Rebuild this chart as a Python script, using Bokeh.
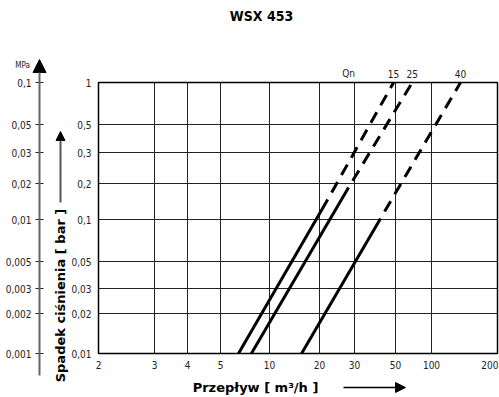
import numpy as np
from bokeh.plotting import figure
from bokeh.models import Range1d, Arrow, NormalHead
from bokeh.core.properties import value
from bokeh.embed import file_html
from bokeh.resources import INLINE

# ---------------- data ----------------
TITLE = "WSX 453"
FLOW_TICKS = [2, 3, 4, 5, 10, 20, 30, 50, 100, 200]
FLOW_LABELS = ["2", "3", "4", "5", "10", "20", "30", "50", "100", "200"]
DP_BAR_TICKS = [0.01, 0.02, 0.03, 0.05, 0.1, 0.2, 0.3, 0.5, 1]
DP_BAR_LABELS = ["0,01", "0,02", "0,03", "0,05", "0,1", "0,2", "0,3", "0,5", "1"]
DP_MPA_LABELS = ["0,001", "0,002", "0,003", "0,005", "0,01", "0,02", "0,03", "0,05", "0,1"]

SERIES = ["15", "25", "40"]
FLOW_START = [6.45, 7.74, 15.6]
DP_START = [0.01, 0.01, 0.01]
FLOW_BREAK = [22.0, 28.0, 41.5]
DP_BREAK = [0.147, 0.185, 0.102]
FLOW_END = [48.8, 69.0, 135.6]
DP_END = [1.0, 1.0, 1.0]
QN_LABEL = "Qn"
QN_FLOW = 28.0

X_TITLE = "Przepływ [ m³/h ]"
Y_TITLE = "Spadek ciśnienia [ bar ]"
Y2_UNIT = "MPa"

# ------- scale of the printed (not exactly logarithmic) grid, in px of the plot area -------
FLOW_GRID_POS = [0, 56, 89, 122, 171, 221, 256, 297, 333, 399]
DP_GRID_POS = [0, 40, 65, 92, 134, 170, 201, 229, 271]
PLOT_W = FLOW_GRID_POS[-1]
PLOT_H = DP_GRID_POS[-1]


def fx(v):
    return np.interp(np.log10(v), np.log10(FLOW_TICKS), FLOW_GRID_POS)


def fy(v):
    return np.interp(np.log10(v), np.log10(DP_BAR_TICKS), DP_GRID_POS)


NARROW = value("DejaVu Sans Condensed, Roboto, sans-serif")
BOLD = value("DejaVu Sans")
TXT = "#222222"

# the plot area occupies [0, PLOT_W] x [0, PLOT_H]; the canvas adds room for the decorations
p = figure(width=499, height=397, output_backend="svg", toolbar_location=None,
           x_range=Range1d(-98, 401), y_range=Range1d(-44, 353),
           x_axis_location=None, y_axis_location=None,
           min_border=0)
p.outline_line_color = None
p.grid.visible = False
p.background_fill_color = "white"
p.border_fill_color = "white"

xt = fx(FLOW_TICKS)
yt = fy(DP_BAR_TICKS)

# grid
p.segment(x0=xt, y0=np.zeros_like(xt), x1=xt, y1=np.full_like(xt, PLOT_H),
          line_color="#222222", line_width=1)
p.segment(x0=np.zeros_like(yt), y0=yt, x1=np.full_like(yt, PLOT_W), y1=yt,
          line_color="#222222", line_width=1)
# frame
p.quad(left=[0], right=[PLOT_W], bottom=[0], top=[PLOT_H], fill_color=None,
       line_color="black", line_width=1.5)

# tick labels (the last one is kept inside the canvas)
p.text(x=xt[:-1], y=np.full(len(xt) - 1, -11.0), text=FLOW_LABELS[:-1], text_align="center",
       text_baseline="middle", text_font=NARROW, text_font_size="10px", text_color=TXT)
p.text(x=xt[-1:] + 1, y=[-11.0], text=FLOW_LABELS[-1:], text_align="right",
       text_baseline="middle", text_font=NARROW, text_font_size="10px", text_color=TXT)
p.text(x=np.full_like(yt, -7), y=yt, text=DP_BAR_LABELS, text_align="right",
       text_baseline="middle", text_font=NARROW, text_font_size="10px", text_color=TXT)

# ---------------- series lines ----------------
for i in range(len(SERIES)):
    p.line([fx(FLOW_START[i]), fx(FLOW_BREAK[i])], [fy(DP_START[i]), fy(DP_BREAK[i])],
           line_color="black", line_width=3, line_cap="butt")
    p.line([fx(FLOW_BREAK[i]), fx(FLOW_END[i])], [fy(DP_BREAK[i]), fy(DP_END[i])],
           line_color="black", line_width=3, line_dash="12 8", line_dash_offset=12,
           line_cap="butt")

top_x = list(fx(FLOW_END)) + [fx(QN_FLOW)]
top_t = SERIES + [QN_LABEL]
p.text(x=top_x, y=[PLOT_H + 9] * len(top_x), text=top_t, text_align="center",
       text_baseline="middle", text_font=NARROW, text_font_size="10px", text_color=TXT)

# ---------------- title ----------------
p.text(x=[163], y=[338], text=[TITLE], text_align="center", text_baseline="middle",
       text_font=NARROW, text_font_style="bold", text_font_size="14px", text_color="black")

# ---------------- MPa axis ----------------
p.add_layout(Arrow(end=NormalHead(size=13, fill_color="black", line_color="black"),
                   x_start=-59, y_start=-22, x_end=-59, y_end=PLOT_H + 23,
                   line_color="#666666", line_width=2))
p.segment(x0=np.full_like(yt, -63), y0=yt, x1=np.full_like(yt, -55), y1=yt,
          line_color="#222222", line_width=1)
p.text(x=np.full_like(yt, -67), y=yt, text=DP_MPA_LABELS, text_align="right",
       text_baseline="middle", text_font=NARROW, text_font_size="10px", text_color=TXT)
p.text(x=[-76], y=[PLOT_H + 17], text=[Y2_UNIT], text_align="center", text_baseline="middle",
       text_font=NARROW, text_font_size="8px", text_color=TXT)

# ---------------- axis titles with arrows ----------------
p.text(x=[-38], y=[58], text=[Y_TITLE], angle=np.pi / 2, text_align="center",
       text_baseline="middle", text_font=BOLD, text_font_style="bold",
       text_font_size="13px", text_color="black")
p.add_layout(Arrow(end=NormalHead(size=9, fill_color="black", line_color="black"),
                   x_start=-38, y_start=151, x_end=-38, y_end=222,
                   line_color="#555555", line_width=2))

p.text(x=[157], y=[-34], text=[X_TITLE], text_align="center", text_baseline="middle",
       text_font=BOLD, text_font_style="bold", text_font_size="13px", text_color="black")
p.add_layout(Arrow(end=NormalHead(size=10, fill_color="black", line_color="black"),
                   x_start=245, y_start=-34, x_end=307, y_end=-34,
                   line_color="black", line_width=1.5))

open("out.html", "w").write(file_html(p, INLINE))
